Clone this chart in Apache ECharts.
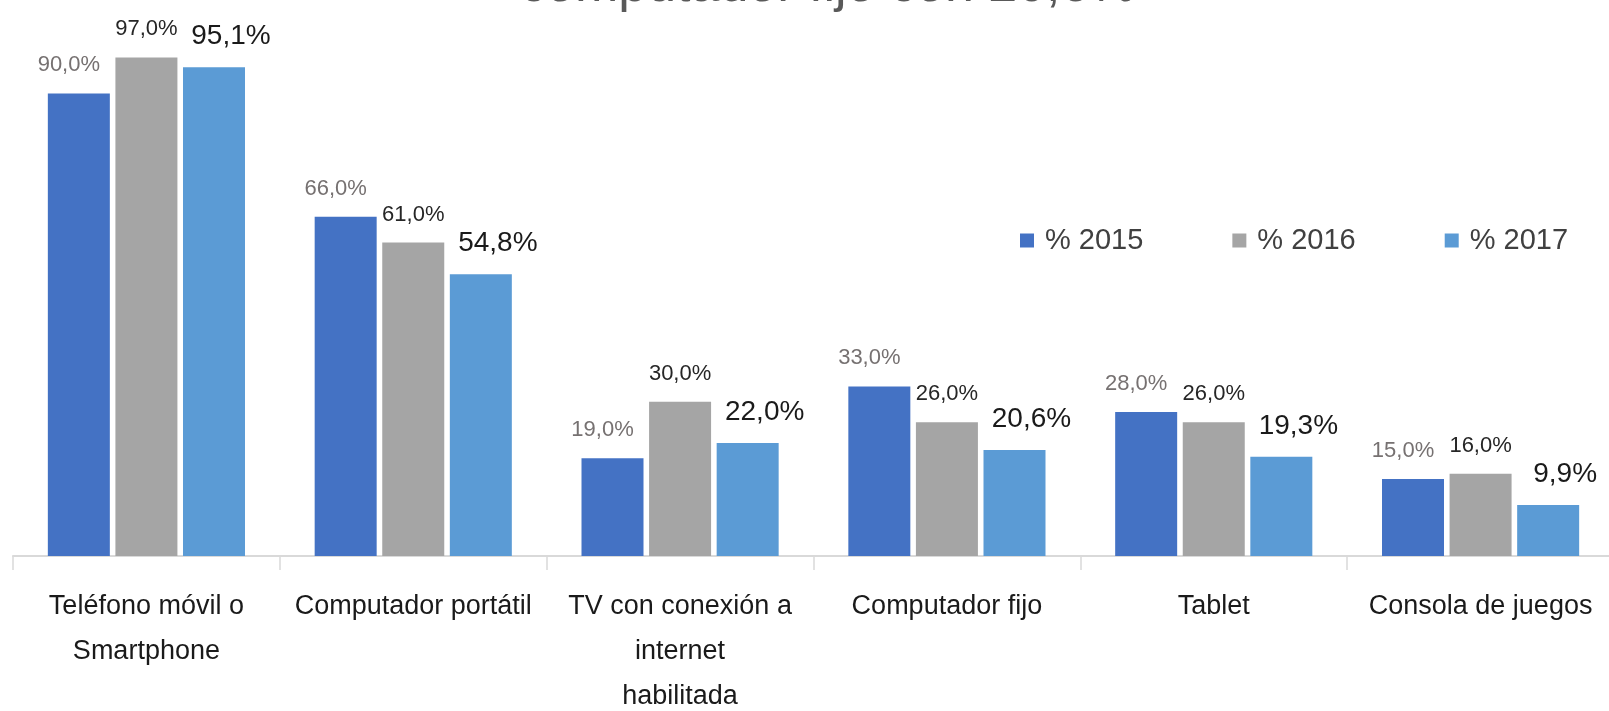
<!DOCTYPE html>
<html>
<head>
<meta charset="utf-8">
<script src="https://cdn.jsdelivr.net/npm/echarts@6/dist/echarts.min.js"></script>
<style>
html,body{margin:0;padding:0;background:#fff;overflow:hidden;}
#chart{width:1609px;height:711px;}
</style>
</head>
<body>
<div id="chart"></div>
<script>
var titleText = 'computador fijo con 20,6%';
var categories = ['Teléfono móvil o\nSmartphone', 'Computador portátil', 'TV con conexión a\ninternet\nhabilitada', 'Computador fijo', 'Tablet', 'Consola de juegos'];
var seriesNames = ['% 2015', '% 2016', '% 2017'];
var values2015 = [90.0, 66.0, 19.0, 33.0, 28.0, 15.0];
var values2016 = [97.0, 61.0, 30.0, 26.0, 26.0, 16.0];
var values2017 = [95.1, 54.8, 22.0, 20.6, 19.3, 9.9];

var FONT = '"Liberation Sans", Arial, sans-serif';
function fmt(p) { return p.value.toFixed(1).replace('.', ',') + '%'; }

var chart = echarts.init(document.getElementById('chart'), null, {renderer: 'canvas'});
chart.setOption({
  animation: false,
  backgroundColor: '#ffffff',
  title: {
    text: titleText,
    left: 515,
    top: -44,
    textStyle: {fontFamily: FONT, fontSize: 52, fontWeight: 'normal', color: '#595959'}
  },
  legend: {
    data: seriesNames,
    left: 1015,
    top: 221,
    icon: 'rect',
    itemWidth: 14,
    itemHeight: 14,
    itemGap: 89,
    textStyle: {fontFamily: FONT, fontSize: 29, color: '#404040', padding: [0, 0, 0, 6]}
  },
  grid: {left: 13, top: 42, width: 1601, bottom: 155, containLabel: false, outerBoundsMode: 'none'},
  xAxis: {
    type: 'category',
    data: categories,
    axisLine: {lineStyle: {color: '#d9d9d9', width: 2}},
    axisTick: {show: true, length: 14, lineStyle: {color: '#d9d9d9', width: 1.5}},
    axisLabel: {fontFamily: FONT, fontSize: 27, lineHeight: 45, color: '#1a1a1a', margin: 28, interval: 0}
  },
  yAxis: {type: 'value', min: 0, max: 100, show: false, splitLine: {show: false}},
  series: [
    {
      name: seriesNames[0], type: 'bar', data: values2015, barWidth: 62, barGap: '9%',
      itemStyle: {color: '#4472c4'},
      label: {show: true, position: 'top', distance: 17, offset: [-10, 0], formatter: fmt,
        fontFamily: FONT, fontSize: 22, color: '#767171'}
    },
    {
      name: seriesNames[1], type: 'bar', data: values2016, barWidth: 62, barGap: '9%',
      itemStyle: {color: '#a5a5a5'},
      label: {show: true, position: 'top', distance: 17, formatter: fmt,
        fontFamily: FONT, fontSize: 22, color: '#262626'}
    },
    {
      name: seriesNames[2], type: 'bar', data: values2017, barWidth: 62, barGap: '9%',
      itemStyle: {color: '#5b9bd5'},
      label: {show: true, position: 'top', distance: 17, offset: [17, 0], formatter: fmt,
        fontFamily: FONT, fontSize: 28, color: '#1a1a1a'}
    }
  ]
});
</script>
</body>
</html>
